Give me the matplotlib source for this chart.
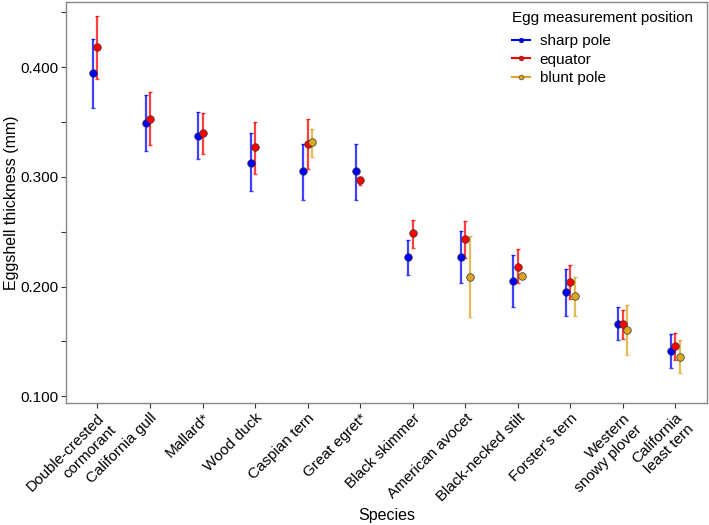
import matplotlib.pyplot as plt
import numpy as np
from matplotlib.ticker import MultipleLocator, FormatStrFormatter
from matplotlib.lines import Line2D

plt.rcParams['font.family'] = ['Liberation Sans', 'DejaVu Sans']

species = ['Double-crested\ncormorant', 'California gull', 'Mallard*', 'Wood duck',
           'Caspian tern', 'Great egret*', 'Black skimmer', 'American avocet',
           'Black-necked stilt', "Forster's tern", 'Western\nsnowy plover',
           'California\nleast tern']

# mean, lower, upper per position (None = not measured)
sharp_mean = [0.395, 0.349, 0.337, 0.313, 0.305, 0.305, 0.227, 0.227, 0.205, 0.195, 0.166, 0.141]
sharp_lo = [0.363, 0.324, 0.316, 0.287, 0.279, 0.279, 0.211, 0.203, 0.181, 0.173, 0.151, 0.126]
sharp_hi = [0.426, 0.375, 0.359, 0.340, 0.330, 0.330, 0.242, 0.251, 0.229, 0.216, 0.181, 0.157]

equat_mean = [0.418, 0.353, 0.340, 0.327, 0.330, 0.297, 0.249, 0.243, 0.218, 0.204, 0.166, 0.146]
equat_lo = [0.389, 0.329, 0.321, 0.303, 0.307, 0.293, 0.235, 0.226, 0.203, 0.189, 0.152, 0.133]
equat_hi = [0.447, 0.377, 0.358, 0.350, 0.353, 0.300, 0.261, 0.260, 0.234, 0.220, 0.179, 0.158]

blunt_mean = [None, None, None, None, 0.332, None, None, 0.209, 0.210, 0.191, 0.160, 0.136]
blunt_lo = [None, None, None, None, 0.318, None, None, 0.172, 0.208, 0.173, 0.138, 0.121]
blunt_hi = [None, None, None, None, 0.344, None, None, 0.246, 0.212, 0.209, 0.183, 0.151]

series = [
    ('sharp pole', sharp_mean, sharp_lo, sharp_hi, '#0000FF', -0.085),
    ('equator', equat_mean, equat_lo, equat_hi, '#FF0000', 0.0),
    ('blunt pole', blunt_mean, blunt_lo, blunt_hi, '#DAA520', 0.085),
]

fig = plt.figure(figsize=(7.09, 5.25), dpi=100)
ax = fig.add_axes([0.093, 0.232, 0.904, 0.764])

x = np.arange(1, len(species) + 1)
handles = []
for name, m, lo, hi, col, off in series:
    idx = [i for i, v in enumerate(m) if v is not None]
    xs = x[idx] + off
    mm = np.array([m[i] for i in idx])
    ll = np.array([lo[i] for i in idx])
    hh = np.array([hi[i] for i in idx])
    ax.errorbar(xs, mm, yerr=[mm - ll, hh - mm], fmt='none', ecolor=col,
                elinewidth=1.6, capsize=1.2, capthick=1.0, alpha=0.75, zorder=2)
    ax.scatter(xs, mm, s=30, color=col, edgecolor='#333333', linewidth=0.5, zorder=3)
    handles.append(Line2D([0], [0], color=col, lw=1.5, marker='o', markersize=3.5,
                          markeredgecolor='#333333', markeredgewidth=0.4, label=name))

ax.set_xlim(0.4, 12.6)
ax.set_ylim(0.0937, 0.4593)
ax.yaxis.set_major_locator(MultipleLocator(0.1))
ax.yaxis.set_minor_locator(MultipleLocator(0.05))
ax.yaxis.set_major_formatter(FormatStrFormatter('%.3f'))
ax.set_xticks(x)
ax.set_xticklabels(species, rotation=45, ha='right', va='top',
                   rotation_mode='anchor', multialignment='right')

ax.tick_params(axis='both', which='both', direction='out', length=3.5,
               color='#333333', width=0.8, labelsize=11, labelcolor='black', pad=2)
ax.tick_params(axis='y', which='minor', length=3.5)
for s in ax.spines.values():
    s.set_color('#888888')
    s.set_linewidth(1.0)

ax.set_xlabel('Species', fontsize=11.5, labelpad=2)
ax.set_ylabel('Eggshell thickness (mm)', fontsize=11.5, labelpad=1)

leg = ax.legend(handles=handles, title='Egg measurement position', loc='upper right',
                bbox_to_anchor=(1.0, 1.013), frameon=False, fontsize=11,
                title_fontsize=11, handlelength=1.2, handletextpad=0.6,
                labelspacing=0.28, alignment='left')
leg._legend_box.sep = 7

fig.savefig('out.png', dpi=100)
